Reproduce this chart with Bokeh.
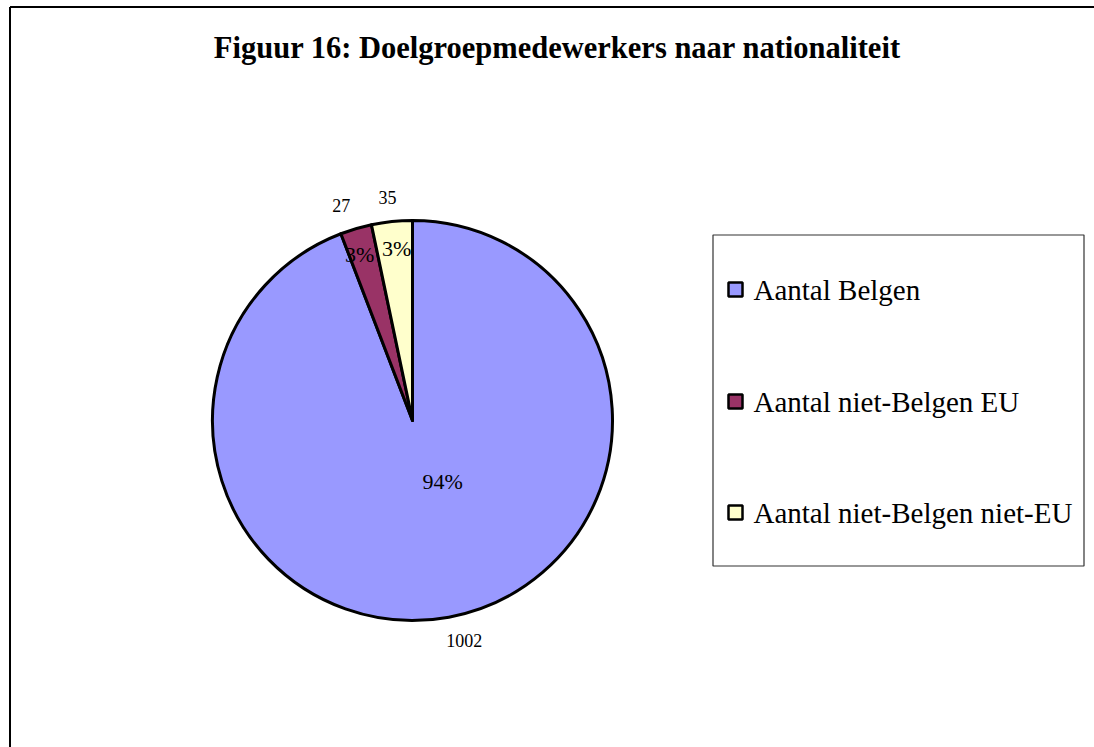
import numpy as np
from bokeh.plotting import figure
from bokeh.models import Range1d, ColumnDataSource
from bokeh.core.properties import value
from bokeh.embed import file_html
from bokeh.resources import INLINE

# ---- data ----
title = "Figuur 16: Doelgroepmedewerkers naar nationaliteit"
categories = ["Aantal Belgen", "Aantal niet-Belgen  EU", "Aantal niet-Belgen niet-EU"]
counts = [1002, 27, 35]
colors = ["#9999FF", "#993366", "#FFFFCC"]

W, H = 1094, 747
FONT = "Liberation Serif"

def Y(py):
    return H - py

p = figure(width=W, height=H, x_range=Range1d(0, W), y_range=Range1d(0, H),
           output_backend="svg", toolbar_location=None, min_border=0)
p.axis.visible = False
p.grid.visible = False
p.outline_line_color = None
p.background_fill_color = "white"
p.border_fill_color = "white"

# outer chart frame (top and left edges visible; the rest lies beyond the window)
p.segment(x0=[9.5, 9.5], y0=[Y(6.5), Y(6.5)], x1=[W, 9.5], y1=[Y(6.5), 0],
          line_color="black", line_width=2, line_cap="butt")

# title
p.text(x=[557], y=[Y(47)], text=[title], text_font=value(FONT),
       text_font_size="30.5px", text_font_style="bold", text_align="center",
       text_baseline="middle", text_color="black")

# ---- pie ----
cx, cy, R = 412, Y(420), 200
vals = np.array(counts, dtype=float)
frac = vals / vals.sum()
cum = np.concatenate([[0], np.cumsum(frac)]) * 2 * np.pi
a0, a1 = cum[:-1], cum[1:]
start = np.pi / 2 - a1
end = np.pi / 2 - a0
mid = np.pi / 2 - (a0 + a1) / 2

src = ColumnDataSource(dict(start=start, end=end, color=colors, cat=categories))
p.wedge(x=cx, y=cy, radius=R, start_angle="start", end_angle="end",
        direction="anticlock", fill_color="color", line_color="black",
        line_width=3, line_join="round", source=src)

# percentage labels
pct = [f"{round(f * 100):.0f}%" for f in frac]
pr = np.array([0.31, 0.865, 0.865]) * R
p.text(x=cx + pr * np.cos(mid), y=cy + pr * np.sin(mid), text=pct,
       x_offset=[19, -4, 2], text_font=value(FONT), text_font_size="22px",
       text_align="center", text_baseline="middle", text_color="black")

# value labels
vr = 1.12 * R
p.text(x=cx + vr * np.cos(mid), y=cy + vr * np.sin(mid),
       text=[str(c) for c in counts], x_offset=[11, -8, -2],
       text_font=value(FONT), text_font_size="18px",
       text_align="center", text_baseline="middle", text_color="black")

# ---- legend ----
p.quad(left=[712.5], right=[1083.5], top=[Y(234.5)], bottom=[Y(565.5)],
       fill_color="white", line_color="#333333", line_width=1.2)
leg_y = [289, 401, 512]
p.rect(x=[735] * 3, y=[Y(v) for v in leg_y], width=14, height=14,
       fill_color=colors, line_color="black", line_width=2.5)
p.text(x=[753] * 3, y=[Y(v) for v in leg_y], text=categories,
       text_font=value(FONT), text_font_size="29px", text_align="left",
       text_baseline="middle", text_color="black")

open("out.html", "w").write(file_html(p, INLINE))
